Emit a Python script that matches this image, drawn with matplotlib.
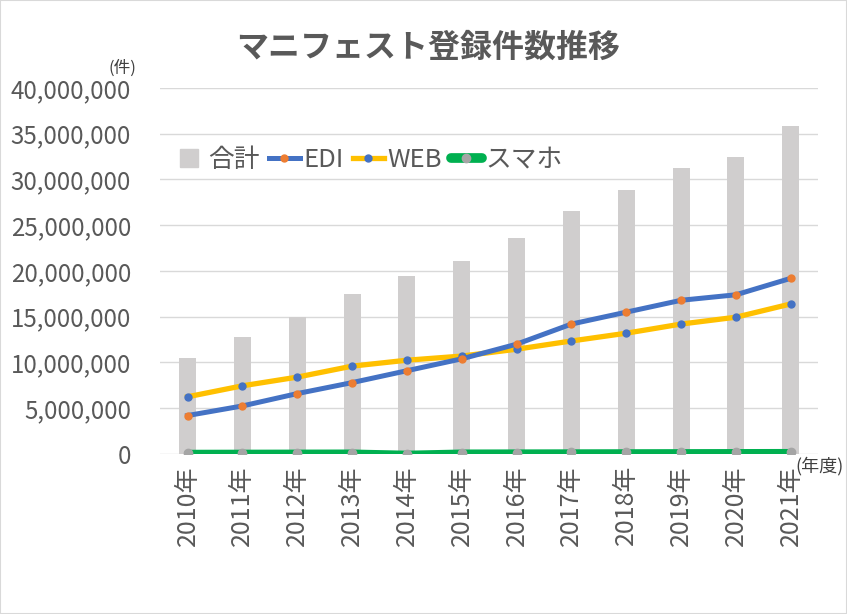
import matplotlib
matplotlib.use("Agg")
from matplotlib import pyplot as plt
from matplotlib.lines import Line2D
from matplotlib.patches import Rectangle
from matplotlib.ticker import FuncFormatter

plt.rcParams['font.family'] = ['Noto Sans CJK JP', 'DejaVu Sans']

years = ["2010年", "2011年", "2012年", "2013年", "2014年", "2015年",
         "2016年", "2017年", "2018年", "2019年", "2020年", "2021年"]
total = [10500000, 12800000, 14950000, 17500000, 19400000, 21100000,
         23600000, 26600000, 28900000, 31300000, 32500000, 35800000]
edi = [4200000, 5250000, 6600000, 7800000, 9100000, 10400000,
       12000000, 14200000, 15500000, 16800000, 17400000, 19200000]
web = [6250000, 7450000, 8400000, 9600000, 10250000, 10700000,
       11450000, 12350000, 13200000, 14200000, 14950000, 16400000]
smaho = [120000, 130000, 140000, 150000, 20000, 150000,
         160000, 170000, 180000, 190000, 200000, 210000]

text_gray = "#595959"
bar_color = "#D0CECE"
blue = "#4472C4"
orange = "#ED7D31"
yellow = "#FFC000"
green = "#00B050"
marker_gray = "#A5A5A5"

fig = plt.figure(figsize=(8.47, 6.14), dpi=100)
ax = fig.add_axes([0.189, 0.2606, 0.777, 0.5961])

x = list(range(len(years)))
ax.bar(x, total, width=0.31, color=bar_color, zorder=2)
ax.plot(x, edi, color=blue, linewidth=3.6, marker="o", markersize=5,
        markerfacecolor=orange, markeredgecolor=orange, zorder=4)
ax.plot(x, web, color=yellow, linewidth=3.8, marker="o", markersize=5,
        markerfacecolor=blue, markeredgecolor=blue, zorder=3)
ax.plot(x, smaho, color=green, linewidth=4.5, marker="o", markersize=6,
        markerfacecolor=marker_gray, markeredgecolor=marker_gray, zorder=5,
        solid_capstyle="round")

ax.set_xlim(-0.5, 11.5)
ax.set_ylim(0, 40000000)
ax.set_yticks(range(0, 40000001, 5000000))
ax.yaxis.set_major_formatter(FuncFormatter(lambda v, p: f"{int(v):,}"))
ax.set_xticks(x)
ax.set_xticklabels(years, rotation=90)
ax.grid(axis="y", color="#D9D9D9", linewidth=1.0, zorder=0)
ax.set_axisbelow(True)
for s in ax.spines.values():
    s.set_visible(False)
ax.tick_params(axis="y", length=0, pad=21, labelsize=17.3, labelcolor=text_gray)
ax.tick_params(axis="x", length=0, pad=8, labelsize=18, labelcolor=text_gray)

handles = [
    Line2D([], [], marker="s", linestyle="none", color=bar_color, markersize=13),
    Line2D([], [], color=blue, linewidth=3.6, marker="o", markersize=5,
           markerfacecolor=orange, markeredgecolor=orange),
    Line2D([], [], color=yellow, linewidth=3.8, marker="o", markersize=5,
           markerfacecolor=blue, markeredgecolor=blue),
    Line2D([], [], color=green, linewidth=7, marker="o", markersize=6,
           markerfacecolor=marker_gray, markeredgecolor=marker_gray,
           solid_capstyle="round"),
]
labels = ["合計", "EDI", "WEB", "スマホ"]
leg = fig.legend(handles, labels, ncol=4, frameon=False, fontsize=18.5,
                 loc="center left", bbox_to_anchor=(0.205, 0.74),
                 handlelength=1.2, handletextpad=0.15, columnspacing=0.35,
                 borderpad=0, borderaxespad=0)
for t in leg.get_texts():
    t.set_color(text_gray)

fig.text(0.505, 0.923, "マニフェスト登録件数推移", ha="center", va="center",
         fontsize=23, fontweight="bold", color=text_gray)
fig.text(0.144, 0.889, "(件)", ha="center", va="center", fontsize=12,
         color="#404040")
fig.text(0.968, 0.241, "(年度)", ha="center", va="center", fontsize=13,
         color="#404040")

fig.patches.append(Rectangle((0.0, 0.0), 1.0, 1.0, transform=fig.transFigure,
                             fill=False, edgecolor="#D9D9D9", linewidth=1.5))

fig.savefig("out.png", dpi=100)
